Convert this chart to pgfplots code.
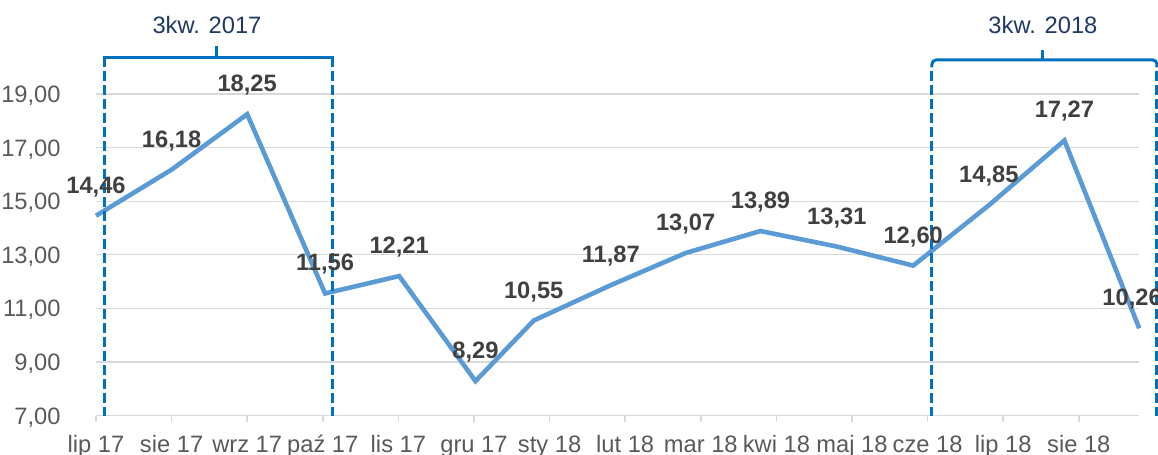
\documentclass[border=0pt]{standalone}
\usepackage{pgfplots}
\pgfplotsset{compat=1.18}
\usepackage{fontspec}
\setmainfont{Liberation Sans}
\definecolor{linec}{HTML}{5B9BD5}
\definecolor{gridc}{HTML}{D9D9D9}
\definecolor{tickc}{HTML}{595959}
\definecolor{labc}{HTML}{404040}
\definecolor{brkc}{HTML}{0070C0}
\definecolor{navy}{HTML}{203864}
\newcommand{\fs}{\fontsize{11.85}{14}\selectfont}
\begin{document}
\begin{tikzpicture}
\begin{axis}[
  x=37.8pt, y=13.4pt,
  xmin=0, xmax=13.8, ymin=7, ymax=20,
  clip=false,
  separate axis lines,
  axis x line*=bottom, axis y line*=left,
  y axis line style={draw=none},
  x axis line style={draw=gridc, line width=0.75pt},
  xtick={0,...,13},
  xticklabels={lip 17, sie 17, wrz 17, paź 17, lis 17, gru 17, sty 18, lut 18, mar 18, kwi 18, maj 18, cze 18, lip 18, sie 18},
  ytick={7,9,...,19},
  ymajorgrids,
  grid style={draw=gridc, line width=0.6pt},
  tick align=outside,
  major tick length=3pt,
  xtick style={draw=gridc, line width=0.75pt},
  ytick style={draw=none},
  /pgf/number format/assume math mode=true,
  yticklabel={\pgfmathprintnumber[fixed, precision=2, zerofill, use comma]{\tick}},
  tick label style={font=\fs, text=tickc},
  yticklabel style={anchor=base east, inner sep=0pt, xshift=-14.5pt, yshift=-4.25pt},
  xticklabel style={anchor=base, inner sep=0pt, yshift=-15.3pt},
  nodes near coords={\pgfmathprintnumber[fixed, precision=2, zerofill, use comma]{\pgfplotspointmeta}},
  nodes near coords align={anchor=base},
  every node near coord/.append style={font=\fs\bfseries, text=labc, yshift=11.25pt, inner sep=0pt},
]
\addplot[color=linec, line width=2.3pt, mark=none,
  coordinate style/.condition={x>13.5}{xshift=-3.6pt}] coordinates {
(0,14.46) (1,16.18) (2,18.25) (3.03,11.56) (4.01,12.21) (5.02,8.29) (5.79,10.55) (6.81,11.87) (7.8,13.07) (8.79,13.89) (9.8,13.31) (10.81,12.60) (11.81,14.85) (12.81,17.27) (13.8,10.26)
};
% left bracket
\draw[brkc, line width=1.5pt] (axis cs:0.106,20.0) -- (axis cs:0.106,20.347) -- (axis cs:3.122,20.347) -- (axis cs:3.122,20.0);
\draw[brkc, line width=1.5pt] (axis cs:1.60,20.347) -- (axis cs:1.60,20.795);
\draw[brkc, line width=1.5pt, dash pattern=on 5pt off 2pt, dash phase=5pt] (axis cs:0.106,20.0) -- (axis cs:0.106,7);
\draw[brkc, line width=1.5pt, dash pattern=on 5pt off 2pt, dash phase=5pt] (axis cs:3.122,20.0) -- (axis cs:3.122,7);
\node[text=navy, font=\fs, inner sep=0pt] at (axis cs:1.468,21.578) {3kw. 2017};
% right bracket
\draw[brkc, line width=1.5pt, rounded corners=2pt] (axis cs:11.058,20.0) -- (axis cs:11.058,20.272) -- (axis cs:14.034,20.272) -- (axis cs:14.034,20.0);
\draw[brkc, line width=1.5pt] (axis cs:12.526,20.272) -- (axis cs:12.526,20.646);
\draw[brkc, line width=1.5pt, dash pattern=on 5pt off 2pt, dash phase=5pt] (axis cs:11.058,20.0) -- (axis cs:11.058,7);
\draw[brkc, line width=1.5pt, dash pattern=on 5pt off 2pt, dash phase=5pt] (axis cs:14.034,20.0) -- (axis cs:14.034,7);
\node[text=navy, font=\fs, inner sep=0pt] at (axis cs:12.526,21.578) {3kw. 2018};
\coordinate (bl) at (axis cs:-1.270,5.534);
\coordinate (tr) at (axis cs:14.048,22.511);
\end{axis}
\pgfresetboundingbox
\path (bl) rectangle (tr);
\end{tikzpicture}
\end{document}
